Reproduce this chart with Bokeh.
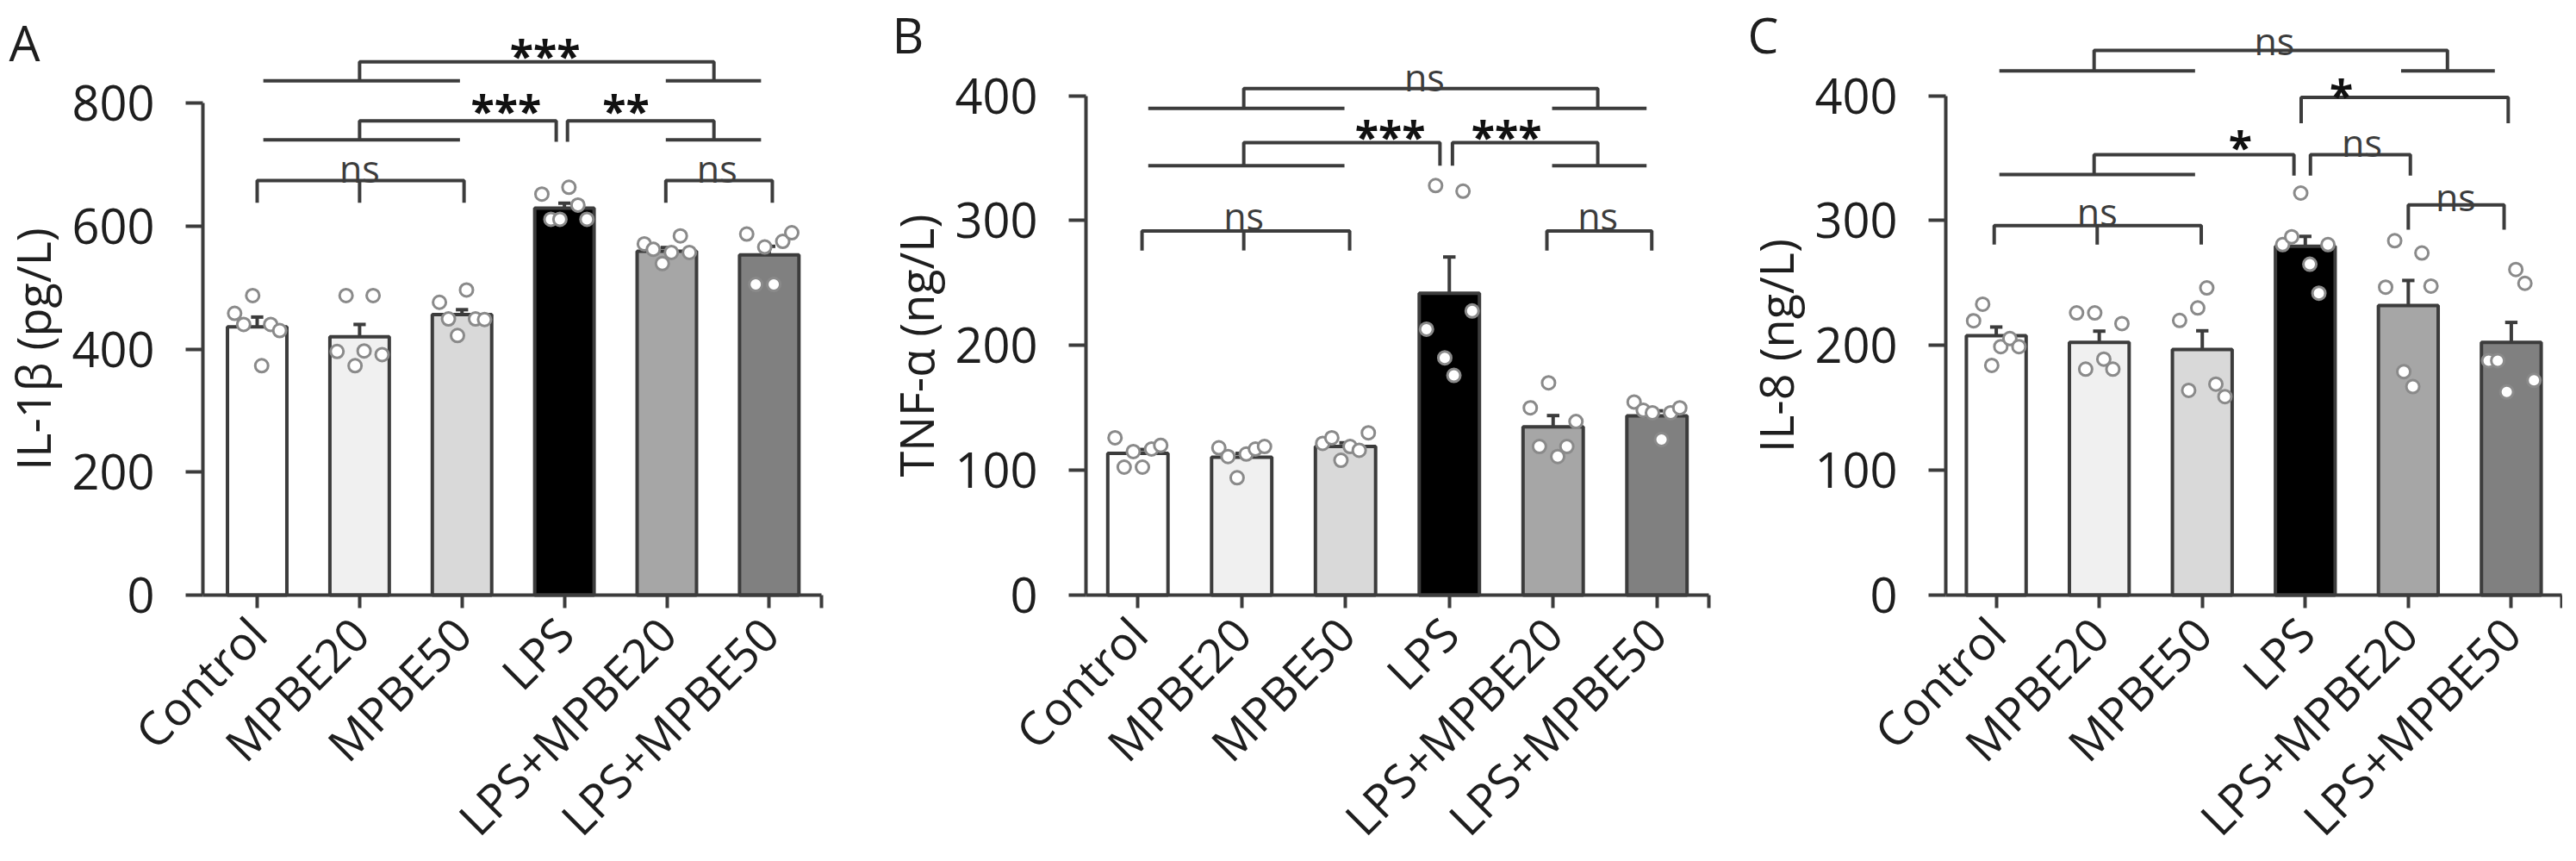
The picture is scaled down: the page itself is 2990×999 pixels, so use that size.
import math
import numpy as np
from bokeh.plotting import figure
from bokeh.layouts import row
from bokeh.models import FixedTicker, Label
from bokeh.core.properties import value
from bokeh.embed import file_html
from bokeh.resources import INLINE

# ---------------- data ----------------
groups = ["Control", "MPBE20", "MPBE50", "LPS", "LPS+MPBE20", "LPS+MPBE50"]

il1b_mean = [436, 420, 456, 629, 559, 553]
il1b_sem = [16, 20, 8, 8, 6, 14]
il1b_points = [
    [458, 440, 487, 373, 440, 430],
    [396, 487, 373, 397, 487, 391],
    [476, 449, 422, 496, 449, 448],
    [652, 611, 611, 663, 634, 611],
    [571, 562, 539, 557, 584, 557],
    [587, 505, 566, 505, 575, 589],
]

tnf_mean = [113.6, 110.5, 119, 241.8, 134.8, 143.6]
tnf_sem = [3, 3, 3, 29, 9, 4]
tnf_points = [
    [126, 102.5, 115, 102.5, 117, 120],
    [118, 111, 94, 113, 117, 119],
    [121.5, 126, 108, 119, 116, 130],
    [213, 328, 190, 176, 323.5, 227.6],
    [150, 119, 170, 111, 119, 139],
    [154.7, 148, 146, 124.6, 146, 150],
]

il8_mean = [207.7, 202.4, 196.7, 279.3, 232, 202.4]
il8_sem = [7, 9, 15, 8, 20, 16]
il8_points = [
    [219.7, 233, 184, 199, 205.5, 199],
    [226, 181, 226, 189, 181, 217.5],
    [220, 164, 230, 246, 169, 159],
    [280.7, 287, 322, 265, 241.8, 280.7],
    [246.6, 283.8, 179, 167, 274, 247.5],
    [187.8, 187.8, 162.7, 260.8, 249.7, 172],
]

ticks_a = [0, 200, 400, 600, 800]
ticks_bc = [0, 100, 200, 300, 400]

# significance annotations (data units)
# simple brackets: (x_left, x_right, y_line, y_end, x_mid or None)
# group lines: (x_left, x_right, y)
# connectors: (x_from, y_from, y_top, x_to, y_to)
# labels: (x, y, text)  -- "ns" y is baseline, stars y is centre
ann_a = dict(
    simple=[(0.0, 2.02, 674, 638, 1.0), (3.99, 5.03, 674, 638, None)],
    groups=[(0.06, 1.98, 740), (3.99, 4.92, 740), (0.06, 1.98, 836), (3.99, 4.92, 836)],
    connect=[(1.0, 740, 771, 2.92, 737), (3.03, 737, 771, 4.46, 740), (1.0, 836, 867, 4.46, 836)],
    labels=[(1.0, 685, "ns"), (4.49, 685, "ns"), (2.43, 804.5, "***"), (3.6, 804.5, "**"), (2.81, 894.4, "***")],
)
ann_b = dict(
    simple=[(0.04, 2.04, 291.7, 276, 1.02), (3.94, 4.95, 291.7, 276, None)],
    groups=[(0.1, 1.99, 343.9), (3.99, 4.9, 343.9), (0.1, 1.99, 389.8), (3.99, 4.9, 389.8)],
    connect=[(1.02, 343.9, 362.4, 2.91, 343.9), (3.03, 343.9, 362.4, 4.43, 343.9), (1.02, 389.8, 405.7, 4.43, 389.8)],
    labels=[(1.02, 299.7, "ns"), (4.43, 299.7, "ns"), (2.43, 375.7, "***"), (3.55, 375.7, "***"), (2.76, 411, "ns")],
)
ann_c = dict(
    simple=[(-0.02, 1.99, 296, 280.7, 0.98), (3.05, 4.02, 352.7, 335.9, None),
            (4.0, 4.93, 312.5, 292.6, None), (2.96, 4.97, 398.7, 377.9, None)],
    groups=[(0.03, 1.93, 336.8), (0.03, 1.93, 419.9), (3.93, 4.84, 419.9)],
    connect=[(0.95, 336.8, 352.7, 2.89, 335.9), (0.95, 419.9, 436.2, 4.38, 419.9)],
    labels=[(0.98, 302.8, "ns"), (2.37, 367.7, "*"), (3.55, 358, "ns"), (4.46, 314.7, "ns"),
            (3.35, 408.8, "*"), (2.7, 439.8, "ns")],
)

# ---------------- style ----------------
FONT = "Open Sans"
bar_colors = ["#ffffff", "#f0f0f0", "#d9d9d9", "#000000", "#a6a6a6", "#808080"]
DARK = "#3c3c3c"
TEXT = "#1e1e1e"
H = 989          # figure height (frame covers the whole figure)
ZERO_PX = 690    # y=0 line, px from the top of the figure


def make_panel(letter, ylabel, means, sems, points, yticks, ann,
               axis_x, axis_w, left_px, right_px, px_per_unit, letter_dx, letter_base):
    ux = axis_w / (axis_x[1] - axis_x[0])
    x_start = axis_x[0] - left_px / ux
    x_end = axis_x[1] + right_px / ux
    W = left_px + axis_w + right_px
    y_top = ZERO_PX / px_per_unit
    y_bot = -(H - ZERO_PX) / px_per_unit
    p = figure(frame_width=W, frame_height=H,
               x_range=(x_start, x_end), y_range=(y_bot, y_top),
               output_backend="svg", toolbar_location=None,
               min_border_left=0, min_border_right=0,
               min_border_top=0, min_border_bottom=0)
    p.outline_line_color = None
    p.xgrid.visible = False
    p.ygrid.visible = False
    p.background_fill_color = "white"
    p.border_fill_color = "white"

    x = list(range(len(groups)))
    p.vbar(x=x, top=means, width=0.58, bottom=0, fill_color=bar_colors,
           line_color=DARK, line_width=4)

    # error bars (upper only)
    tops = [m + s for m, s in zip(means, sems)]
    p.segment(x0=x, y0=means, x1=x, y1=tops, line_color=DARK, line_width=4)
    p.segment(x0=[i - 0.06 for i in x], y0=tops, x1=[i + 0.06 for i in x], y1=tops,
              line_color=DARK, line_width=4)

    # individual points
    px, py = [], []
    for i, pts in enumerate(points):
        offs = np.linspace(-0.22, 0.22, len(pts))
        for o, v in zip(offs, pts):
            px.append(i + o)
            py.append(v)
    p.scatter(px, py, marker="circle", size=15, fill_color="white",
              line_color="#8a8a8a", line_width=3)

    # brackets
    xs, ys = [], []
    for (xl, xrr, yl, ye, xm) in ann["simple"]:
        xs.append([xl, xl, xrr, xrr]); ys.append([ye, yl, yl, ye])
        if xm is not None:
            xs.append([xm, xm]); ys.append([yl, ye])
    for (xl, xrr, yy) in ann["groups"]:
        xs.append([xl, xrr]); ys.append([yy, yy])
    for (x0, y0, yt, x1, y1) in ann["connect"]:
        xs.append([x0, x0, x1, x1]); ys.append([y0, yt, yt, y1])
    p.multi_line(xs, ys, line_color=DARK, line_width=4)

    ns = [l for l in ann["labels"] if l[2] == "ns"]
    st = [l for l in ann["labels"] if l[2] != "ns"]
    if ns:
        lift = 6 / px_per_unit
        p.text(x=[l[0] for l in ns], y=[l[1] + lift for l in ns], text=[l[2] for l in ns],
               text_font=value(FONT), text_font_size="43px", text_color=DARK,
               text_align="center", text_baseline="alphabetic")
    if st:
        shift = 12 / px_per_unit
        p.text(x=[l[0] for l in st], y=[l[1] - shift for l in st], text=[l[2] for l in st],
               text_font=value(FONT), text_font_size="50px", text_font_style="bold",
               text_color="#111111", text_align="center", text_baseline="alphabetic")

    # axes (drawn at fixed positions inside the full-size frame)
    yax = p.yaxis[0]
    yax.fixed_location = axis_x[0]
    yax.ticker = FixedTicker(ticks=yticks)
    yax.bounds = (0, yticks[-1])
    yax.axis_line_width = 4
    yax.axis_line_color = DARK
    yax.major_tick_line_width = 4
    yax.major_tick_line_color = DARK
    yax.major_tick_out = 20
    yax.major_tick_in = 0
    yax.minor_tick_line_color = None
    yax.major_label_text_font = FONT
    yax.major_label_text_font_size = "56px"
    yax.major_label_text_color = TEXT
    yax.major_label_standoff = 36
    yax.axis_label = ylabel
    yax.axis_label_text_font = FONT
    yax.axis_label_text_font_size = "54px"
    yax.axis_label_text_font_style = "normal"
    yax.axis_label_text_color = TEXT
    yax.axis_label_standoff = 5

    xax = p.xaxis[0]
    xax.fixed_location = 0
    xax.bounds = axis_x
    xax.ticker = FixedTicker(ticks=x + [axis_x[1]])
    overrides = {i: g for i, g in enumerate(groups)}
    overrides[axis_x[1]] = ""
    xax.major_label_overrides = overrides
    xax.major_label_orientation = math.pi / 4
    xax.axis_line_width = 4
    xax.axis_line_color = DARK
    xax.major_tick_line_width = 4
    xax.major_tick_line_color = DARK
    xax.major_tick_out = 15
    xax.major_tick_in = 0
    xax.minor_tick_line_color = None
    xax.major_label_text_font = FONT
    xax.major_label_text_font_size = "54px"
    xax.major_label_text_color = TEXT
    xax.major_label_standoff = 20

    # panel letter (inside the frame, left of the y axis)
    p.add_layout(Label(x=x_start + letter_dx / ux, y=(ZERO_PX - letter_base) / px_per_unit,
                       text=letter, text_font=FONT, text_font_size="57px",
                       text_color=TEXT, text_align="left", text_baseline="alphabetic"))
    return p


pa = make_panel("A", "IL-1β (pg/L)", il1b_mean, il1b_sem, il1b_points, ticks_a, ann_a,
                (-0.53, 5.51), 718, 235, 30, (698 - 127) / 800, 10, 48)
pb = make_panel("B", "TNF-α (ng/L)", tnf_mean, tnf_sem, tnf_points, ticks_bc, ann_b,
                (-0.5, 5.5), 723, 277, 5, (698 - 118.5) / 400, 52, 39)
pc = make_panel("C", "IL-8 (ng/L)", il8_mean, il8_sem, il8_points, ticks_bc, ann_c,
                (-0.49, 5.49), 715, 270, 1, (698 - 118.5) / 400, 40, 39)

layout = row(pa, pb, pc)
open("out.html", "w").write(file_html(layout, INLINE))
